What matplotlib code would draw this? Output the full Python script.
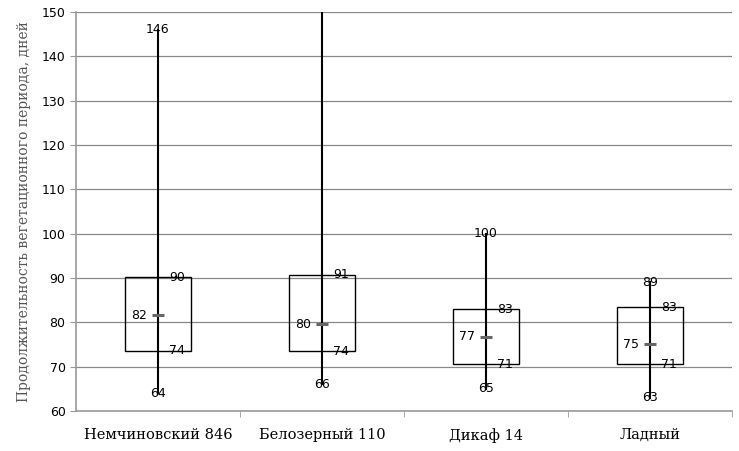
import matplotlib.pyplot as plt
from matplotlib.patches import Rectangle

# ----- Data -----
varieties = ['Немчиновский 846', 'Белозерный 110', 'Дикаф 14', 'Ладный']
low_vals = [64, 66, 65, 63]
high_vals = [146, 160, 100, 89]        # second one runs off the top of the chart
box_low = [73.6, 73.5, 70.6, 70.6]
box_high = [90.2, 90.7, 82.9, 83.4]
mean_vals = [81.6, 79.6, 76.7, 75.1]

YMIN, YMAX = 60, 150


def main():
    fig = plt.figure(figsize=(7.39, 4.51), dpi=100)
    ax = fig.add_axes([0.1028, 0.0887, 0.8877, 0.8847])

    xs = list(range(len(varieties)))
    box_w = 0.4
    off = 0.115  # horizontal label offset, in category units

    for x, lo, hi, bl, bh, m in zip(xs, low_vals, high_vals, box_low, box_high, mean_vals):
        ax.add_patch(Rectangle((x - box_w / 2, bl), box_w, bh - bl,
                               fill=False, edgecolor='black', lw=1.0, zorder=3))
        ax.plot([x, x], [lo, hi], color='black', lw=1.5, zorder=4)
        ax.plot([x], [m], marker='_', markersize=8, mew=2.2, color='#666666', zorder=5)

        if hi <= YMAX:
            ax.text(x, hi, f'{hi:.0f}', ha='center', va='center', fontsize=9, zorder=6)
        ax.text(x, lo, f'{lo:.0f}', ha='center', va='center', fontsize=9, zorder=6)
        ax.text(x + off, bh, f'{bh:.0f}', ha='center', va='center', fontsize=9, zorder=6)
        ax.text(x + off, bl, f'{bl:.0f}', ha='center', va='center', fontsize=9, zorder=6)
        ax.text(x - off, m, f'{m:.0f}', ha='center', va='center', fontsize=9, zorder=6)

    ax.set_xlim(-0.5, len(varieties) - 0.5)
    ax.set_ylim(YMIN, YMAX)
    ax.set_yticks(range(YMIN, YMAX + 1, 10))
    ax.set_xticks(xs)
    ax.set_xticklabels(varieties, family='DejaVu Serif', fontsize=10.5)
    ax.set_xticks([x + 0.5 for x in xs], minor=True)
    ax.tick_params(axis='x', which='major', length=0, pad=12)
    ax.tick_params(axis='x', which='minor', length=4, color='#999999')
    ax.tick_params(axis='y', length=4, color='#999999', labelsize=9)

    ax.grid(axis='y', color='#888888', lw=0.9, zorder=0)
    ax.set_axisbelow(True)
    for side in ['top', 'right']:
        ax.spines[side].set_visible(False)
    for side in ['left', 'bottom']:
        ax.spines[side].set_color('#999999')
        ax.spines[side].set_linewidth(1.2)

    ax.set_ylabel('Продолжительность вегетационного периода, дней',
                  family='DejaVu Serif', fontsize=10, color='#555555', labelpad=8)

    fig.savefig('out.png', dpi=100)


if __name__ == '__main__':
    main()
